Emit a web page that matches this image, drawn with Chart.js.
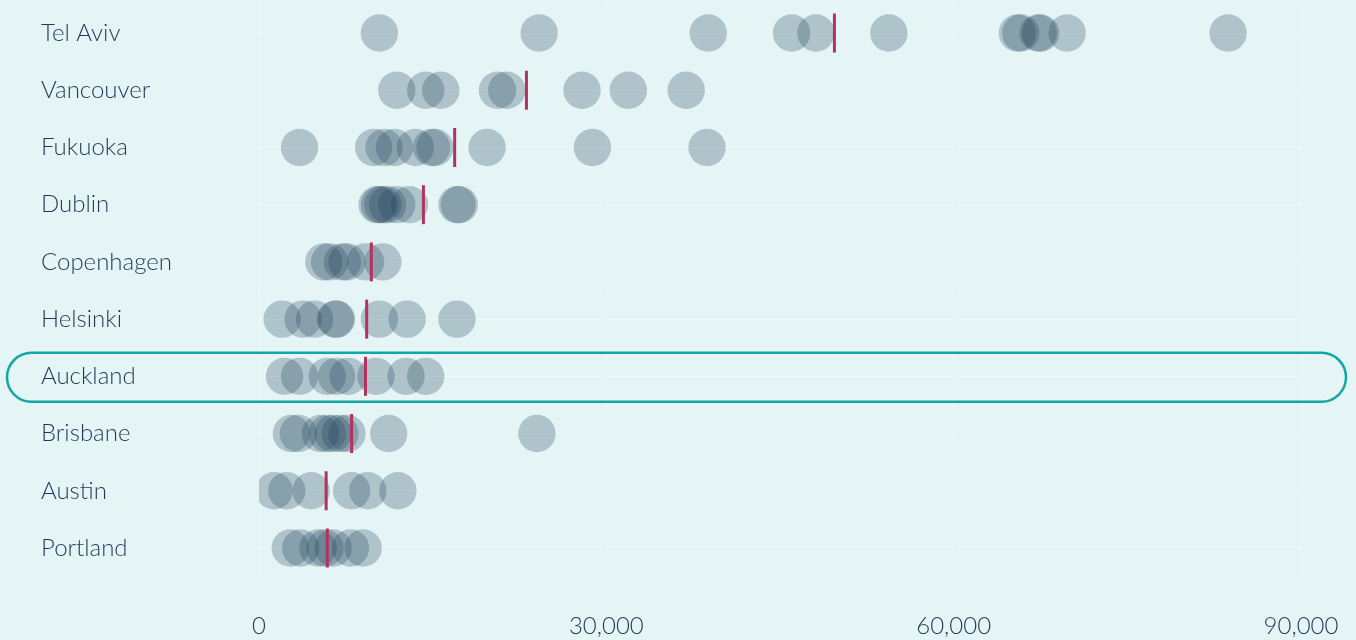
<!DOCTYPE html>
<html lang="en">
<head>
  <meta charset="UTF-8">
  <title>Cities strip plot</title>
  <script src="https://cdn.jsdelivr.net/npm/chart.js"></script>
  <style>
    html, body { margin: 0; padding: 0; background: #e5f5f5; }
    #wrap { width: 1356px; height: 640px; }
  </style>
</head>
<body>
<div id="wrap"><canvas id="chart" width="1356" height="640"></canvas></div>

<script>
  // rows, top to bottom
  const cities = ['Tel Aviv', 'Vancouver', 'Fukuoka', 'Dublin', 'Copenhagen',
                  'Helsinki', 'Auckland', 'Brisbane', 'Austin', 'Portland'];

  // one dot per value
  const telAviv    = [10400, 24200, 38800, 46000, 48100, 54400, 65500, 65800, 67300, 67500, 69800, 83700];
  const vancouver  = [11900, 14400, 15700, 20600, 21400, 27900, 31900, 36900];
  const fukuoka    = [3500, 9900, 10800, 11700, 13500, 14900, 15200, 19700, 28800, 38700];
  const dublin     = [10200, 10400, 10700, 11100, 11900, 13000, 17100, 17300];
  const copenhagen = [5600, 6100, 7200, 7600, 9200, 10700];
  const helsinki   = [2000, 3800, 4800, 6600, 6700, 10400, 12800, 17100];
  const auckland   = [2200, 3500, 5900, 6700, 7700, 10100, 12700, 14400];
  const brisbane   = [2800, 3400, 5300, 5900, 6400, 7000, 7600, 11200, 24000];
  const austin     = [1300, 2400, 4500, 8000, 9400, 12000];
  const portland   = [2700, 3600, 5100, 5700, 6400, 7900, 9000];

  // red marker per row
  const markerValues = [49700, 23100, 16900, 14200, 9700, 9300, 9200, 8000, 5800, 5900];

  const xTicks = [0, 30000, 60000, 90000];
  const highlightCity = 'Auckland';

  const rows = [telAviv, vancouver, fukuoka, dublin, copenhagen,
                helsinki, auckland, brisbane, austin, portland];

  const dots = [];
  rows.forEach(function(vals, i) {
    vals.forEach(function(v) { dots.push({ x: v, y: cities[i] }); });
  });
  const markers = markerValues.map(function(v, i) { return { x: v, y: cities[i] }; });

  const ink = '#1f3a58';
  const labelFont = { family: 'Lato', size: 24, weight: 300 };

  // rounded outline round the highlighted row
  const highlightBox = {
    id: 'highlightBox',
    beforeDatasetsDraw: function(chart) {
      const ctx = chart.ctx;
      const yc = chart.scales.y.getPixelForValue(cities.indexOf(highlightCity));
      const h = 49, x0 = 7, x1 = chart.width - 10, r = h / 2;
      const top = yc - h / 2 + 1;
      ctx.save();
      ctx.strokeStyle = '#14a6a7';
      ctx.lineWidth = 2.5;
      ctx.beginPath();
      ctx.roundRect(x0, top, x1 - x0, h, r);
      ctx.stroke();
      ctx.restore();
    }
  };

  new Chart(document.getElementById('chart'), {
    type: 'scatter',
    data: {
      datasets: [{
        data: markers,
        pointStyle: 'line',
        rotation: 90,
        radius: 19.5,
        borderWidth: 3,
        borderColor: '#b3325e',
        backgroundColor: '#b3325e'
      }, {
        data: dots,
        pointStyle: 'circle',
        radius: 18.7,
        borderWidth: 0,
        backgroundColor: 'rgba(31, 61, 90, 0.27)'
      }]
    },
    options: {
      responsive: false,
      animation: false,
      events: [],
      layout: { autoPadding: false, padding: { left: 41, right: 55, top: 4.4, bottom: 0 } },
      plugins: { legend: { display: false }, tooltip: { enabled: false } },
      scales: {
        x: {
          type: 'linear',
          min: 0,
          max: 90000,
          afterBuildTicks: function(scale) {
            scale.ticks = xTicks.map(function(v) { return { value: v }; });
          },
          afterFit: function(scale) {
            scale.height = 63.4;
            scale.paddingLeft = 0;
            scale.paddingRight = 0;
          },
          border: { display: false },
          grid: { color: 'rgba(255,255,255,0.3)', drawTicks: false },
          ticks: {
            color: ink,
            padding: 35,
            maxRotation: 0,
            font: labelFont,
            callback: function(v) { return v.toLocaleString('en-US'); }
          }
        },
        y: {
          type: 'category',
          labels: cities,
          offset: true,
          afterFit: function(scale) {
            scale.width = 218;
            scale.paddingTop = 0;
            scale.paddingBottom = 0;
          },
          border: { display: false },
          grid: { color: 'rgba(255,255,255,0.3)', drawTicks: false, offset: false },
          ticks: {
            color: ink,
            crossAlign: 'far',
            font: labelFont
          }
        }
      }
    },
    plugins: [highlightBox]
  });
</script>
</body>
</html>
